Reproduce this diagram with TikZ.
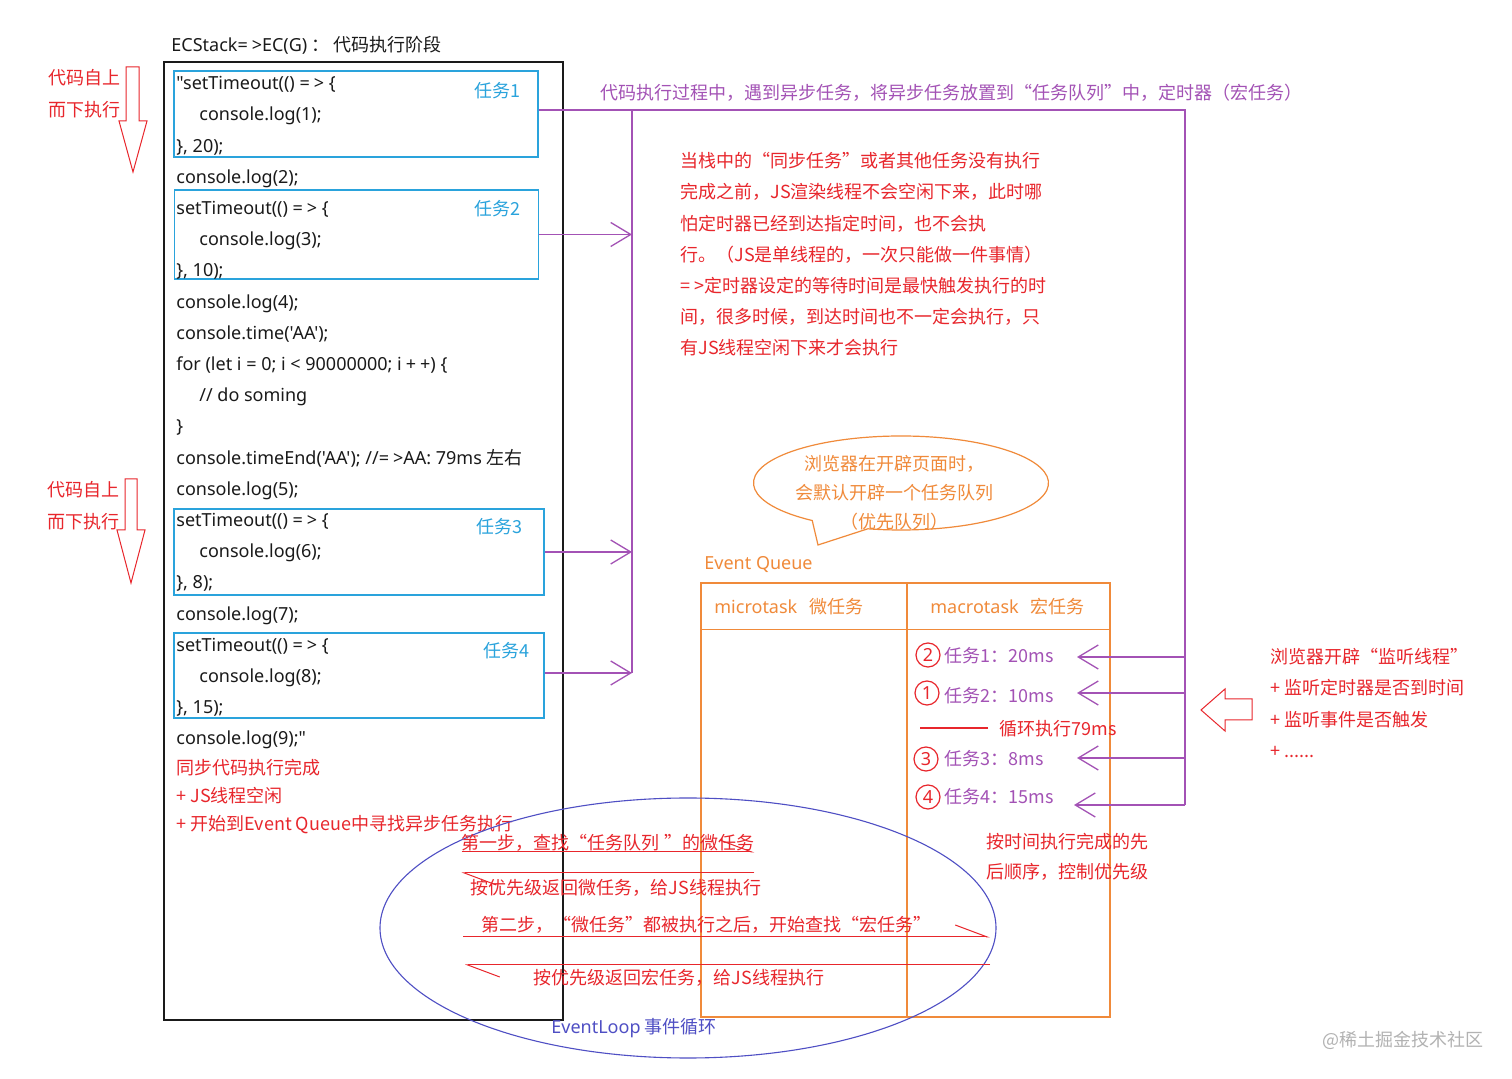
\documentclass[tikz,border=0pt]{standalone}
\usepackage{fontspec}
\usepackage{tikz}
\usetikzlibrary{positioning,arrows.meta}
\newfontfamily\cjkfont{Noto Sans CJK SC}
\newfontfamily\codefont{Noto Sans}
\definecolor{codeblack}{HTML}{1A1A1A}
\definecolor{taskcyan}{HTML}{2AA3DC}
\definecolor{flowpurple}{HTML}{A352B5}
\definecolor{notered}{HTML}{E8262C}
\definecolor{queueorange}{HTML}{F08A3A}
\definecolor{loopblue}{HTML}{4F4FC4}
\newcommand{\arrowop}{=\kern2pt>}

\begin{document}
\begin{tikzpicture}[x=0.5pt, y=-0.5pt,
    txt/.style={inner sep=0pt, anchor=west, font=\cjkfont\fontsize{9}{15.6}\selectfont},
    code/.style={txt, font=\codefont\fontsize{9}{15.6}\selectfont, text=codeblack, align=left},
    note/.style={txt, text=notered, align=left},
    taskbox/.style={draw=taskcyan, line width=0.7pt, minimum width=182pt, minimum height=43pt, inner sep=0pt},
    tasklabel/.style={txt, text=taskcyan, anchor=center},
    flow/.style={draw=flowpurple, line width=0.65pt},
    flowarrow/.style={flow, -{Straight Barb[length=10pt, width=12pt]}},
    hollow/.style={draw=notered, line width=0.5pt},
    qline/.style={draw=queueorange, line width=0.6pt},
    numcirc/.style={circle, draw=notered, text=notered, line width=0.6pt, minimum size=12pt, inner sep=0pt, font=\codefont\fontsize{9}{11}\selectfont},
    macro/.style={txt, text=flowpurple},
    loopline/.style={draw=notered, line width=0.5pt, -{Straight Barb[harpoon, length=16pt, width=12pt]}}
  ]
    \fill[white] (0,0) rectangle (1512,1079);
    \useasboundingbox (0,0) rectangle (1512,1079);

    % call stack with the code
    \node[txt, text=codeblack] (title) at (171,45) {{\codefont ECStack\arrowop EC(G)} ： 代码执行阶段};
    \node[draw=codeblack, line width=0.7pt, minimum width=199.5pt, minimum height=479pt, inner sep=0pt] (stack) at (363.5,541) {};
    \node[taskbox] (task1) at (356,114) {};
    \node[taskbox, minimum height=44.5pt] (task2) at (356.5,234.5) {};
    \node[taskbox, minimum width=185pt] (task3) at (359,552) {};
    \node[taskbox, minimum width=185pt, minimum height=42.5pt] (task4) at (359,675.5) {};
    \node[tasklabel] (lab1) at (497,91) {任务1};
    \node[tasklabel] (lab2) at (497,209) {任务2};
    \node[tasklabel] (lab3) at (499,527) {任务3};
    \node[tasklabel] (lab4) at (506,651) {任务4};
    \node[code, anchor=north west] (listing) at (176,76) {"setTimeout(() \arrowop{} \{\\
      \hspace*{11.5pt}console.log(1);\\
      \}, 20);\\
      console.log(2);\\
      setTimeout(() \arrowop{} \{\\
      \hspace*{11.5pt}console.log(3);\\
      \}, 10);\\
      console.log(4);\\
      console.time('AA');\\
      for (let i = 0; i < 90000000; i\kern2pt+\kern2pt+) \{\\
      \hspace*{11.5pt}// do soming\\
      \}\\
      console.timeEnd('AA'); //\arrowop AA: 79ms {\cjkfont 左右}\\
      console.log(5);\\
      setTimeout(() \arrowop{} \{\\
      \hspace*{11.5pt}console.log(6);\\
      \}, 8);\\
      console.log(7);\\
      setTimeout(() \arrowop{} \{\\
      \hspace*{11.5pt}console.log(8);\\
      \}, 15);\\
      console.log(9);"};
    \node[note, anchor=north west, font=\cjkfont\fontsize{9}{14}\selectfont] (syncdone) at (176,759) {同步代码执行完成\\+ JS线程空闲\\+ 开始到Event Queue中寻找异步任务执行};

    % top-down hints
    \draw[hollow] (126,67) -- (139,67) -- (139,121) -- (147,121) -- (133,172) -- (119,121) -- (126,121) -- cycle;
    \draw[hollow] (125,479) -- (137,479) -- (137,530) -- (145,530) -- (131,583) -- (117,530) -- (125,530) -- cycle;
    \node[note, anchor=north east, font=\cjkfont\fontsize{9}{16}\selectfont] (dir1) at (121,69) {代码自上\\而下执行};
    \node[note, anchor=north east, font=\cjkfont\fontsize{9}{16}\selectfont] (dir2) at (120,481) {代码自上\\而下执行};

    % tasks go to the queue
    \coordinate (busL) at (632,110);
    \coordinate (busR) at (1185,110);
    \coordinate (busEnd) at (1185,805);
    \node[txt, text=flowpurple] (enqueue) at (600,93) {代码执行过程中，遇到异步任务，将异步任务放置到“任务队列”中，定时器（宏任务）};
    \draw[flow] (task1.east |- busL) -- (busR) -- (busEnd);
    \draw[flow] (busL) -- (632,673);
    \draw[flowarrow] (task2.east) -- (task2.east -| busL);
    \draw[flowarrow] (task3.east) -- (task3.east -| busL);
    \draw[flowarrow] (task4.east |- 0,673) -- (632,673);

    \node[note, anchor=north west] (blocknote) at (680,152) {当栈中的“同步任务”或者其他任务没有执行\\完成之前，JS渲染线程不会空闲下来，此时哪\\怕定时器已经到达指定时间，也不会执\\行。（JS是单线程的，一次只能做一件事情）\\\arrowop 定时器设定的等待时间是最快触发执行的时\\间，很多时候，到达时间也不一定会执行，只\\有JS线程空闲下来才会执行};

    % event queue
    \draw[qline] (901,483) ++(127:147.5 and 47) arc[start angle=127, end angle=463, x radius=147.5, y radius=47] -- (818,545) -- cycle;
    \node[txt, anchor=center, align=center, text=queueorange, font=\cjkfont\fontsize{9}{14.5}\selectfont] (bubble) at (894,493) {浏览器在开辟页面时，\\会默认开辟一个任务队列\\（优先队列）};
    \node[txt, text=queueorange, font=\codefont\fontsize{9}{11}\selectfont] (eqlabel) at (704,565) {Event Queue};
    \node[qline, minimum width=204.5pt, minimum height=217pt, inner sep=0pt] (queue) at (905.5,800) {};
    \draw[qline] ([xshift=0.75pt]queue.north) -- ([xshift=0.75pt]queue.south);
    \draw[qline] ([yshift=-23.5pt]queue.north west) -- ([yshift=-23.5pt]queue.north east);
    \node[txt, text=queueorange] (micro) at (714,607) {{\codefont microtask}\hspace{6pt}微任务};
    \node[txt, text=queueorange] (macroh) at (930,607) {{\codefont macrotask}\hspace{6pt}宏任务};

    \node[numcirc] (n2) at (928,655) {2};
    \node[numcirc] (n1) at (927,693) {1};
    \node[numcirc] (n3) at (926,759) {3};
    \node[numcirc] (n4) at (928,797) {4};
    \node[macro] (m1) at (944,656) {任务1：20ms};
    \node[macro] (m2) at (944,696) {任务2：10ms};
    \node[macro] (m3) at (944,759) {任务3：8ms};
    \node[macro] (m4) at (944,797) {任务4：15ms};
    \node[note] (loop79) at (999,729) {循环执行79ms};
    \draw[draw=notered, line width=0.6pt] ([xshift=-5.5pt]loop79.west |- 0,728) -- (920,728);

    \draw[flowarrow] (busR |- 0,657) -- (1077,657);
    \draw[flowarrow] (busR |- 0,693) -- (1077,693);
    \draw[flowarrow] (busR |- 0,758) -- (1077,758);
    \draw[flowarrow] (busEnd) -- (1074,805);
    \node[note, anchor=north west, font=\cjkfont\fontsize{9}{15}\selectfont] (ordernote) at (986,833) {按时间执行完成的先\\后顺序，控制优先级};

    % listener thread
    \draw[hollow] (1201,710) -- (1225,689) -- (1225,699) -- (1252,699) -- (1252,720) -- (1225,720) -- (1225,731) -- cycle;
    \node[note, anchor=north west] (listen) at (1270,648) {浏览器开辟“监听线程”\\+ 监听定时器是否到时间\\+ 监听事件是否触发\\+ ......};

    % event loop
    \draw[draw=loopblue, line width=0.55pt] (688,928) ellipse[x radius=308, y radius=130];
    \node[txt, anchor=center, text=notered] (step1) at (608,843) {第一步，查找“任务队列 ”的微任务};
    \node[txt, anchor=center, text=notered] (back1) at (616,888) {按优先级返回微任务，给JS线程执行};
    \node[txt, anchor=center, text=notered] (step2) at (706,925) {第二步，“微任务”都被执行之后，开始查找“宏任务”};
    \node[txt, anchor=center, text=notered] (back2) at (679,978) {按优先级返回宏任务，给JS线程执行};
    \draw[loopline] (step1.south west) -- (step1.south east);
    \draw[loopline] ([yshift=-10.5pt]step1.south east) -- ([yshift=-10.5pt]step1.south west);
    \draw[loopline] (463,937) -- (990,937);
    \draw[loopline] (990,965) -- (465,965);
    \node[txt, anchor=center, text=loopblue] (looplabel) at (634,1028) {{\codefont EventLoop} 事件循环};

    \node[txt, anchor=center, text=gray!60] (mark) at (1403,1040) {@稀土掘金技术社区};
  \end{tikzpicture}
\end{document}
